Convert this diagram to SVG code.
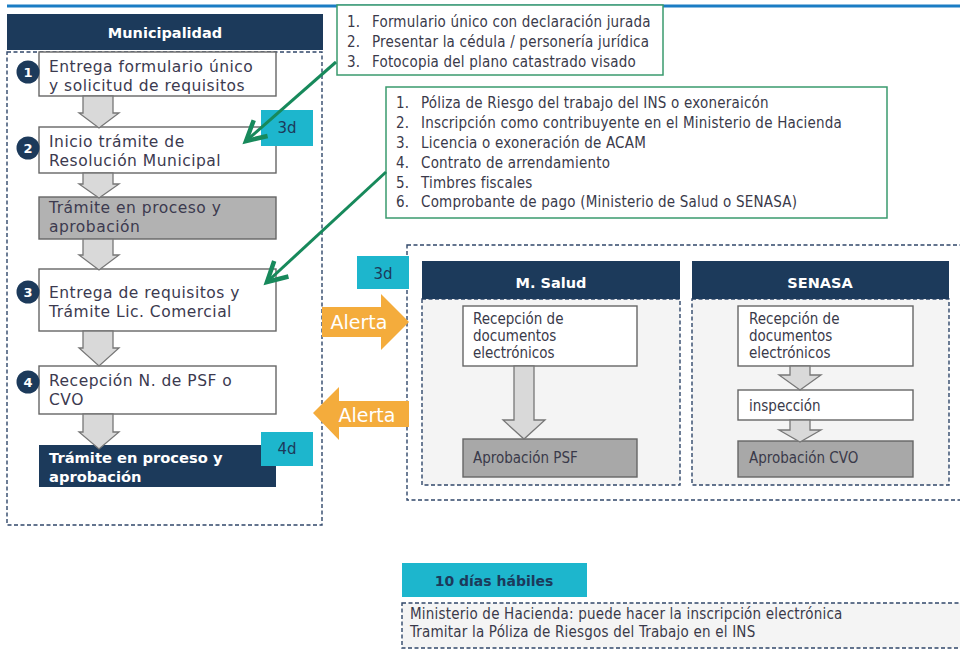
<svg xmlns="http://www.w3.org/2000/svg" width="960" height="650" viewBox="0 0 960 650">
<style>
.reg{font-family:'DejaVu Sans',Verdana,sans-serif;font-size:15.5px;letter-spacing:0.5px;fill:#3c3a4f}
.regw{font-family:'DejaVu Sans',Verdana,sans-serif;font-size:14.7px;font-weight:bold;fill:#ffffff}
.hdr{font-family:'DejaVu Sans',Verdana,sans-serif;font-size:14.5px;font-weight:bold;fill:#ffffff;text-anchor:middle}
.lst{font-family:'DejaVu Sans Condensed','DejaVu Sans',sans-serif;font-stretch:condensed;font-size:15px;letter-spacing:0.2px;fill:#3a3a4a}
.sm{font-family:'DejaVu Sans Condensed','DejaVu Sans',sans-serif;font-stretch:condensed;font-size:15px;fill:#3a3a4a}
.bot{font-family:'DejaVu Sans Condensed','DejaVu Sans',sans-serif;font-stretch:condensed;font-size:15px;letter-spacing:0.2px;fill:#3a3a4a}
.num{font-family:'DejaVu Sans',Verdana,sans-serif;font-size:13px;font-weight:bold;fill:#ffffff;text-anchor:middle}
.badge{fill:#1db6cd}
.btxt{font-family:'DejaVu Sans',Verdana,sans-serif;font-size:15px;fill:#1c3a5b;text-anchor:middle}
.alert{fill:#f4ac3c}
.atxt{font-family:'DejaVu Sans',Verdana,sans-serif;font-size:19px;fill:#ffffff;text-anchor:middle}
.box{fill:#ffffff;stroke:#666666;stroke-width:1.4}
.gbox{fill:#b2b2b2;stroke:#666666;stroke-width:1.4}
.gbox2{fill:#a8a8a8;stroke:#666666;stroke-width:1.4}
.navy{fill:#1c3a5b}
.dash{fill:none;stroke:#30476a;stroke-width:1.4;stroke-dasharray:4 2.5}
.panel{fill:#f4f4f4;stroke:#30476a;stroke-width:1.4;stroke-dasharray:4 2.5}
.blk{fill:#d9d9d9;stroke:#777777;stroke-width:1.3}
.lbox{fill:#ffffff;stroke:#3a9a6e;stroke-width:1.5}
.garrow{fill:none;stroke:#17895b;stroke-width:3}
</style>
<defs>
<marker id="vhead" markerUnits="userSpaceOnUse" markerWidth="30" markerHeight="30" refX="0" refY="0" viewBox="-16 -10 20 20" orient="auto">
<path d="M-13,-7 L0,0 L-13,7" fill="none" stroke="#17895b" stroke-width="3"/>
</marker>
</defs>

<line x1="7" y1="6" x2="960" y2="6" stroke="#1b7dc4" stroke-width="3"/>

<g id="municipalidad">
<rect x="7" y="52" width="315" height="473" class="dash"/>
<rect x="7" y="14" width="316" height="36" class="navy"/>
<text x="165" y="38" class="hdr">Municipalidad</text>
</g>

<g id="step1">
<rect x="39" y="52" width="237" height="44" class="box"/>
<text x="49" y="72" class="reg">Entrega formulario único</text>
<text x="49" y="91" class="reg">y solicitud de requisitos</text>
<circle cx="28" cy="72" r="11.5" class="navy"/>
<text x="28" y="77" class="num">1</text>
</g>

<g id="step2">
<rect x="39" y="127" width="237" height="46" class="box"/>
<text x="49" y="147" class="reg">Inicio trámite de</text>
<text x="49" y="166" class="reg">Resolución Municipal</text>
<circle cx="28" cy="148" r="11.5" class="navy"/>
<text x="28" y="153" class="num">2</text>
<rect x="261" y="110" width="52" height="36" class="badge"/>
<text x="287" y="133" class="btxt">3d</text>
</g>

<g id="tramite1">
<rect x="39" y="197" width="237" height="42" class="gbox"/>
<text x="49" y="213" class="reg">Trámite en proceso y</text>
<text x="49" y="232" class="reg">aprobación</text>
</g>

<g id="step3">
<rect x="39" y="269" width="237" height="62" class="box"/>
<text x="49" y="298" class="reg">Entrega de requisitos y</text>
<text x="49" y="317" class="reg">Trámite Lic. Comercial</text>
<circle cx="28" cy="292" r="11.5" class="navy"/>
<text x="28" y="297" class="num">3</text>
</g>

<g id="step4">
<rect x="39" y="366" width="237" height="48" class="box"/>
<text x="49" y="386" class="reg">Recepción N. de PSF o</text>
<text x="49" y="405" class="reg">CVO</text>
<circle cx="28" cy="382" r="11.5" class="navy"/>
<text x="28" y="387" class="num">4</text>
</g>

<g id="tramite2">
<rect x="39" y="445" width="237" height="42" class="navy"/>
<text x="49" y="463" class="regw">Trámite en proceso y</text>
<text x="49" y="482" class="regw">aprobación</text>
<rect x="261" y="432" width="52" height="34" class="badge"/>
<text x="287" y="454" class="btxt">4d</text>
</g>

<g id="lista1">
<rect x="337" y="5" width="326" height="70" class="lbox"/>
<text x="347" y="27" class="lst">1.</text><text x="372" y="27" class="lst">Formulario único con declaración jurada</text>
<text x="347" y="47" class="lst">2.</text><text x="372" y="47" class="lst">Presentar la cédula / personería jurídica</text>
<text x="347" y="67" class="lst">3.</text><text x="372" y="67" class="lst">Fotocopia del plano catastrado visado</text>
</g>

<g id="lista2">
<rect x="386" y="87" width="501" height="131" class="lbox"/>
<text x="396" y="108" class="lst">1.</text><text x="421" y="108" class="lst">Póliza de Riesgo del trabajo del INS o exoneraicón</text>
<text x="396" y="128" class="lst">2.</text><text x="421" y="128" class="lst">Inscripción como contribuyente en el Ministerio de Hacienda</text>
<text x="396" y="148" class="lst">3.</text><text x="421" y="148" class="lst">Licencia o exoneración de ACAM</text>
<text x="396" y="168" class="lst">4.</text><text x="421" y="168" class="lst">Contrato de arrendamiento</text>
<text x="396" y="188" class="lst">5.</text><text x="421" y="188" class="lst">Timbres fiscales</text>
<text x="396" y="207" class="lst">6.</text><text x="421" y="207" class="lst">Comprobante de pago (Ministerio de Salud o SENASA)</text>
</g>

<g id="externos">
<rect x="407" y="245" width="556" height="255" class="dash"/>
</g>

<g id="msalud">
<rect x="422" y="299" width="258" height="186" class="panel"/>
<rect x="422" y="261" width="258" height="38" class="navy"/>
<text x="551" y="288" class="hdr">M. Salud</text>
<rect x="463" y="306" width="174" height="60" class="box"/>
<text x="473" y="324" class="sm">Recepción de</text>
<text x="473" y="341" class="sm">documentos</text>
<text x="473" y="358" class="sm">electrónicos</text>
<rect x="463" y="439" width="174" height="38" class="gbox2"/>
<text x="473" y="463" class="sm">Aprobación PSF</text>
</g>

<g id="senasa">
<rect x="692" y="299" width="257" height="186" class="panel"/>
<rect x="692" y="261" width="257" height="38" class="navy"/>
<text x="820" y="288" class="hdr">SENASA</text>
<rect x="738" y="306" width="175" height="60" class="box"/>
<text x="749" y="324" class="sm">Recepción de</text>
<text x="749" y="341" class="sm">documentos</text>
<text x="749" y="358" class="sm">electrónicos</text>
<rect x="738" y="390" width="175" height="30" class="box"/>
<text x="749" y="411" class="sm">inspección</text>
<rect x="738" y="441" width="175" height="36" class="gbox2"/>
<text x="749" y="463" class="sm">Aprobación CVO</text>
</g>

<g id="badge3d">
<rect x="357" y="256" width="52" height="33" class="badge"/>
<text x="383" y="279" class="btxt">3d</text>
</g>

<g id="connectors">
<path class="blk" d="M83,96 L113,96 L113,113 L119,113 L99,128 L79,113 L83,113 Z"/>
<path class="blk" d="M83,173 L113,173 L113,184 L119,184 L99,198 L79,184 L83,184 Z"/>
<path class="blk" d="M83,239 L113,239 L113,255 L119,255 L99,270 L79,255 L83,255 Z"/>
<path class="blk" d="M83,331 L113,331 L113,348 L119,348 L99,366 L79,348 L83,348 Z"/>
<path class="blk" d="M83,414 L113,414 L113,432 L119,432 L99,449 L79,432 L83,432 Z"/>
<path class="blk" d="M514,366 L534,366 L534,420 L545,420 L524,439 L503,420 L514,420 Z"/>
<path class="blk" d="M790,366 L810,366 L810,375 L821,375 L800,390 L779,375 L790,375 Z"/>
<path class="blk" d="M790,420 L810,420 L810,430 L821,430 L800,442 L779,430 L790,430 Z"/>
<line x1="336" y1="62" x2="246" y2="141" class="garrow" marker-end="url(#vhead)"/>
<line x1="386" y1="172" x2="267" y2="282" class="garrow" marker-end="url(#vhead)"/>
<g id="alerta1">
<path class="alert" d="M322,307 L381,307 L381,294 L409,322 L381,350 L381,337 L322,337 Z"/>
<text x="359" y="329" class="atxt">Alerta</text>
</g>
<g id="alerta2">
<path class="alert" d="M313,413 L339,387 L339,401 L409,401 L409,427 L339,427 L339,440 Z"/>
<text x="367" y="422" class="atxt">Alerta</text>
</g>
</g>

<g id="dias">
<rect x="402" y="563" width="185" height="34" class="badge"/>
<text x="494" y="586" class="btxt" style="font-weight:bold;font-size:14px">10 días hábiles</text>
</g>

<g id="notas">
<rect x="402" y="603" width="561" height="45" class="panel"/>
<text x="410" y="619" class="bot">Ministerio de Hacienda: puede hacer la inscripción electrónica</text>
<text x="410" y="637" class="bot">Tramitar la Póliza de Riesgos del Trabajo en el INS</text>
</g>
</svg>
